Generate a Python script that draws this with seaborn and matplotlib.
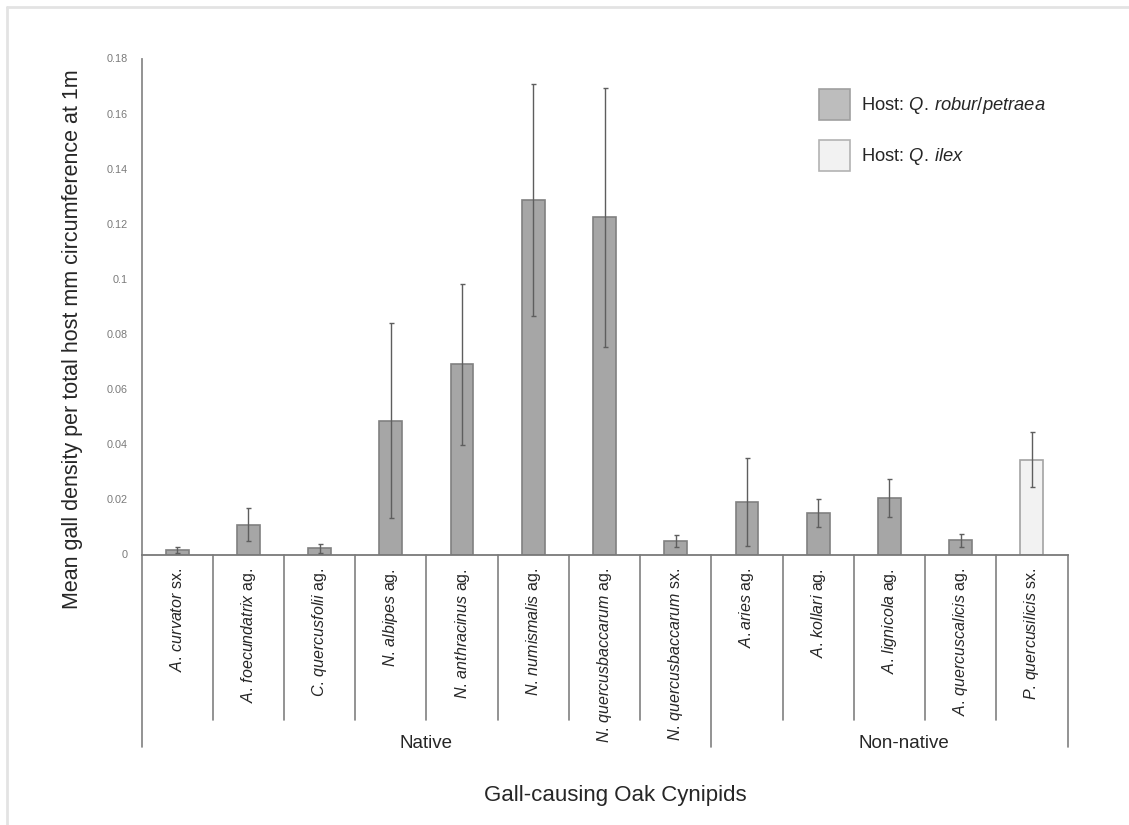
import matplotlib
matplotlib.use("Agg")
import matplotlib.pyplot as plt
from matplotlib.lines import Line2D
from matplotlib.patches import Patch
import matplotlib.transforms as mtransforms
import numpy as np
import pandas as pd
import seaborn as sns

# --- data -------------------------------------------------------------
species = ["A. curvator", "A. foecundatrix", "C. quercusfolii", "N. albipes",
           "N. anthracinus", "N. numismalis", "N. quercusbaccarum",
           "N. quercusbaccarum", "A.aries", "A. kollari", "A. lignicola",
           "A. quercuscalicis", "P. quercusilicis"]
generation = ["sx.", "ag.", "ag.", "ag.", "ag.", "ag.", "ag.", "sx.", "ag.",
              "ag.", "ag.", "ag.", "sx."]
mean_density = [0.0018, 0.0108, 0.0023, 0.0486, 0.0691, 0.1287, 0.1224,
                0.0049, 0.0192, 0.0151, 0.0206, 0.0051, 0.0344]
std_error = [0.0011, 0.0060, 0.0016, 0.0353, 0.0292, 0.0422, 0.0470,
             0.0023, 0.0160, 0.0050, 0.0069, 0.0025, 0.0100]
host = ["robur"] * 12 + ["ilex"]
origin_groups = ["Native", "Non-native"]
group_sizes = [8, 5]
yticks = [0, 0.02, 0.04, 0.06, 0.08, 0.1, 0.12, 0.14, 0.16, 0.18]
ytick_labels = ["0", "0.02", "0.04", "0.06", "0.08", "0.1", "0.12", "0.14",
                "0.16", "0.18"]
legend_labels = {"robur": r"Host: $\mathit{Q.\,robur/petraea}$",
                 "ilex": r"Host: $\mathit{Q.\,ilex}$"}

# --- style ------------------------------------------------------------
sns.set_theme(style="white")
plt.rcParams["font.family"] = ["Liberation Sans", "DejaVu Sans"]
plt.rcParams["mathtext.fontset"] = "custom"
plt.rcParams["mathtext.rm"] = "Liberation Sans"
plt.rcParams["mathtext.it"] = "Liberation Sans:italic"
plt.rcParams["mathtext.bf"] = "Liberation Sans:bold"

TEXT = "#262626"
bar_fill = {"robur": "#a6a6a6", "ilex": "#f2f2f2"}
bar_edge = {"robur": "#808080", "ilex": "#a3a3a3"}

W, H = 1129, 825
fig = plt.figure(figsize=(W / 100, H / 100), dpi=100)
ax_left, ax_right, ax_bottom, ax_top = 141.5, 1067.5, 554.5, 58.5
ax = fig.add_axes([ax_left / W, 1 - ax_bottom / H,
                   (ax_right - ax_left) / W, (ax_bottom - ax_top) / H])

labels = [f"{s}|{g}" for s, g in zip(species, generation)]
df = pd.DataFrame({"label": labels, "value": mean_density, "host": host})

sns.barplot(data=df, x="label", y="value", hue="host", order=labels,
            palette=bar_fill, dodge=False, width=0.32, errorbar=None,
            linewidth=1.2, legend=False, ax=ax)
for patch in ax.patches:
    fc = matplotlib.colors.to_hex(patch.get_facecolor())
    key = "ilex" if fc == bar_fill["ilex"] else "robur"
    patch.set_edgecolor(bar_edge[key])

xpos = np.arange(len(labels))
ax.errorbar(xpos, mean_density, yerr=std_error, fmt="none",
            ecolor="#5e5e5e", elinewidth=1.0, capsize=1.8, capthick=1.0,
            zorder=5)

ax.set_xlim(-0.5, len(labels) - 0.5)
ax.set_ylim(0, 0.18)
ax.set_yticks(yticks)
ax.set_yticklabels(ytick_labels, fontsize=7.8, color="#7a7a7a")
ax.tick_params(axis="y", length=0, pad=10)

tick_text = [r"$\mathit{" + s.replace(" ", r"\,") + "}$ " + g
             for s, g in zip(species, generation)]
ax.set_xticks(xpos)
ax.set_xticklabels(tick_text, rotation=90, ha="center", va="top",
                   fontsize=11.5, color=TEXT)
ax.tick_params(axis="x", length=0, pad=9.5)
ax.set_xlabel("")
ax.set_ylabel("")

for side in ["top", "right"]:
    ax.spines[side].set_visible(False)
ax.spines["left"].set_color("#8a8a8a")
ax.spines["left"].set_linewidth(1.3)
ax.spines["bottom"].set_color("#7a7a7a")
ax.spines["bottom"].set_linewidth(1.3)

# category separators below the axis and the origin grouping
axes_h = ax_bottom - ax_top
inner_end = -(720 - ax_bottom) / axes_h
outer_end = -(747 - ax_bottom) / axes_h
trans = mtransforms.blended_transform_factory(ax.transData, ax.transAxes)
group_edges = np.cumsum([0] + group_sizes) - 0.5
for b in np.arange(len(labels) + 1) - 0.5:
    end = outer_end if np.any(np.isclose(b, group_edges)) else inner_end
    ax.add_line(Line2D([b, b], [0, end], transform=trans, color="#808080",
                       linewidth=1.2, clip_on=False))

group_label_y = -(744 - ax_bottom) / axes_h
group_x = [3.5, 10.2]
for name, gx in zip(origin_groups, group_x):
    ax.text(gx, group_label_y, name, transform=trans, ha="center",
            va="center", fontsize=13.5, color=TEXT)

fig.text(615.8 / W, 1 - 795 / H, "Gall-causing Oak Cynipids",
         ha="center", va="center", fontsize=16, color=TEXT)
fig.text(73 / W, 1 - 339 / H,
         "Mean gall density per total host mm circumference at 1m",
         ha="center", va="center", rotation=90, fontsize=15.5, color=TEXT)

handles = [Patch(facecolor="#bdbdbd", edgecolor="#a0a0a0", linewidth=1.2),
           Patch(facecolor="#f2f2f2", edgecolor="#b3b3b3", linewidth=1.2)]
fig.legend(handles, [legend_labels["robur"], legend_labels["ilex"]],
           loc="upper left", bbox_to_anchor=(819 / W, 1 - 89 / H),
           bbox_transform=fig.transFigure, frameon=False, fontsize=13.2,
           handlelength=1.7, handleheight=2.25, labelspacing=1.05,
           handletextpad=0.6, borderpad=0, borderaxespad=0,
           labelcolor=TEXT)

# thin frame along the top and left of the canvas
for xs, ys in [([7, W], [7, 7]), ([7, 7], [7, H])]:
    fig.add_artist(Line2D([x / W for x in xs], [1 - y / H for y in ys],
                          transform=fig.transFigure, color="#e3e3e3",
                          linewidth=2.0))

fig.savefig("out.png", dpi=100, facecolor="white")
